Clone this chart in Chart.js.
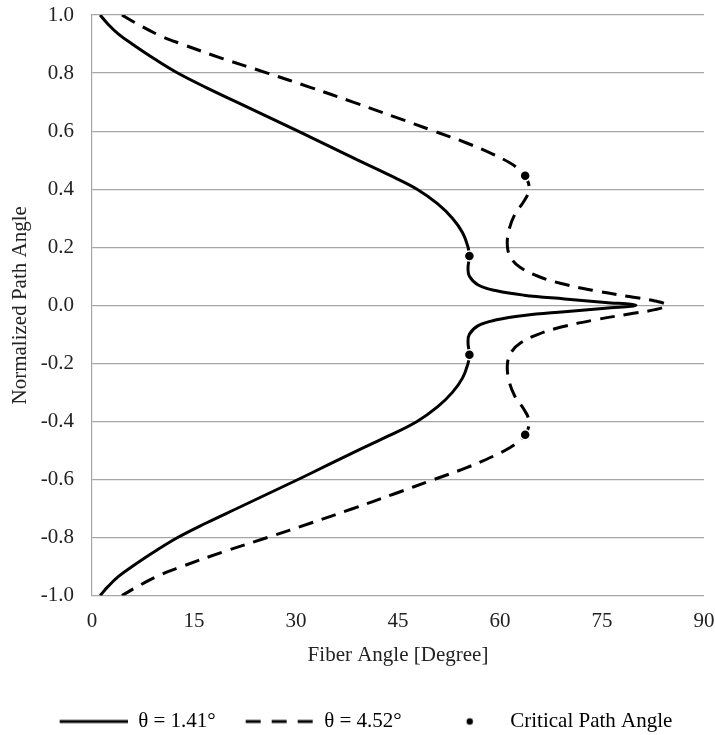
<!DOCTYPE html>
<html>
<head>
<meta charset="utf-8">
<script src="https://cdn.jsdelivr.net/npm/chart.js@4.4.1/dist/chart.umd.min.js"></script>
<style>
  html, body { margin: 0; padding: 0; background: #fff; }
  #wrap { width: 715px; height: 735px; }
</style>
</head>
<body>
<div id="wrap"><canvas id="fiberChart" width="715" height="735"></canvas></div>
<script>
// Fiber angle (x) vs normalized path angle (y)
const solidFiber = [1.2, 2.3, 3.9, 5.9, 9.1, 12.6, 16.8, 21.3, 25.8, 30.3, 34.7, 39.1, 43.6, 47.8, 50.8, 53.0, 54.5, 55.3, 55.5, 55.3, 55.5, 56.8, 59.5, 63.5, 69.5, 75.5, 80.0,
                    75.5, 69.5, 63.5, 59.5, 56.8, 55.5, 55.3, 55.5, 55.3, 54.5, 53.0, 50.8, 47.8, 43.6, 39.1, 34.7, 30.3, 25.8, 21.3, 16.8, 12.6, 9.1, 5.9, 3.9, 2.3, 1.2];
const solidPath  = [1.0, 0.97, 0.934, 0.9, 0.85, 0.8, 0.75, 0.7, 0.65, 0.6, 0.55, 0.5, 0.45, 0.4, 0.35, 0.3, 0.25, 0.2, 0.17, 0.13, 0.1, 0.07, 0.05, 0.035, 0.022, 0.01, 0.0,
                    -0.01, -0.022, -0.035, -0.05, -0.07, -0.1, -0.13, -0.17, -0.2, -0.25, -0.3, -0.35, -0.4, -0.45, -0.5, -0.55, -0.6, -0.65, -0.7, -0.75, -0.8, -0.85, -0.9, -0.934, -0.97, -1.0];

const dashedFiber = [4.4, 6.6, 9.9, 13.2, 19.2, 25.8, 32.2, 38.4, 44.4, 50.3, 55.0, 59.0, 61.5, 62.9, 63.7, 64.2, 64.2, 63.4, 62.2, 61.3, 61.1, 61.7, 63.0, 65.6, 69.0, 74.0, 79.0, 82.8, 84.5,
                     82.8, 79.0, 74.0, 69.0, 65.6, 63.0, 61.7, 61.1, 61.3, 62.2, 63.4, 64.2, 64.2, 63.7, 62.9, 61.5, 59.0, 55.0, 50.3, 44.4, 38.4, 32.2, 25.8, 19.2, 13.2, 9.9, 6.6, 4.4];
const dashedPath  = [1.0, 0.97, 0.93, 0.9, 0.85, 0.8, 0.75, 0.7, 0.65, 0.6, 0.56, 0.52, 0.49, 0.466, 0.446, 0.42, 0.39, 0.354, 0.314, 0.257, 0.2, 0.16, 0.13, 0.1, 0.075, 0.05, 0.03, 0.015, 0.0,
                     -0.015, -0.03, -0.05, -0.075, -0.1, -0.13, -0.16, -0.2, -0.257, -0.314, -0.354, -0.39, -0.42, -0.446, -0.466, -0.49, -0.52, -0.56, -0.6, -0.65, -0.7, -0.75, -0.8, -0.85, -0.9, -0.93, -0.97, -1.0];

const critFiber = [55.5, 63.7, 55.5, 63.7];
const critPath  = [0.17, 0.446, -0.17, -0.446];

const seriesLabels = ['\u03b8 = 1.41\u00b0', '\u03b8 = 4.52\u00b0', 'Critical Path Angle'];
const xTicks = [0, 15, 30, 45, 60, 75, 90];

const FONT = "'Liberation Serif', 'Times New Roman', serif";
const FS = 21;

function toPoints(xs, ys) {
    return xs.map(function(x, i) { return { x: x, y: ys[i] }; });
}

// small canvases used as legend symbols (9px lead-in acts as item spacing)
function legendSymbol(kind) {
    const c = document.createElement('canvas');
    c.width = 77; c.height = 12;
    const g = c.getContext('2d');
    if (kind === 'dot') {
        g.fillStyle = '#000';
        g.beginPath(); g.arc(47, 6, 3.2, 0, Math.PI * 2); g.fill();
    } else {
        g.strokeStyle = '#000';
        g.lineWidth = 3;
        if (kind === 'dash') g.setLineDash([15, 11]);
        g.beginPath(); g.moveTo(9, 6); g.lineTo(77, 6); g.stroke();
    }
    return c;
}
const symbols = [legendSymbol('solid'), legendSymbol('dash'), legendSymbol('dot')];

Chart.defaults.font.family = FONT;
Chart.defaults.font.size = FS;
Chart.defaults.color = '#222';

const ctx = document.getElementById('fiberChart').getContext('2d');
new Chart(ctx, {
    type: 'scatter',
    data: {
        datasets: [{
            label: seriesLabels[2],
            data: toPoints(critFiber, critPath),
            pointRadius: 5,
            pointBackgroundColor: '#000',
            pointBorderColor: '#fff',
            pointBorderWidth: 1.5,
            showLine: false,
            order: 0
        }, {
            label: seriesLabels[0],
            data: toPoints(solidFiber, solidPath),
            showLine: true,
            borderColor: '#000',
            borderWidth: 3,
            pointRadius: 0,
            tension: 0.4,
            order: 1
        }, {
            label: seriesLabels[1],
            data: toPoints(dashedFiber, dashedPath),
            showLine: true,
            borderColor: '#000',
            borderWidth: 3,
            borderDash: [15, 9],
            pointRadius: 0,
            tension: 0.4,
            order: 2
        }]
    },
    options: {
        responsive: false,
        animation: false,
        layout: { padding: { top: 0, right: 0, left: 8, bottom: -7 } },
        scales: {
            x: {
                type: 'linear',
                min: 0,
                max: 90,
                afterBuildTicks: function(axis) {
                    axis.ticks = xTicks.map(function(v) { return { value: v }; });
                },
                afterFit: function(axis) {
                    axis.paddingLeft = 0;
                    axis.paddingRight = 11;
                    axis.height = 94.4;
                },
                grid: { display: false, drawTicks: false },
                border: { display: false },
                ticks: { padding: 13, color: '#222' },
                title: {
                    display: true,
                    text: 'Fiber Angle [Degree]',
                    color: '#222',
                    padding: { top: 0, bottom: 21.8 }
                }
            },
            y: {
                type: 'linear',
                min: -1,
                max: 1,
                afterFit: function(axis) {
                    axis.paddingTop = 15;
                    axis.paddingBottom = 0;
                    axis.width = 84;
                },
                ticks: {
                    stepSize: 0.2,
                    padding: 18,
                    color: '#222',
                    callback: function(v) { return v.toFixed(1); }
                },
                grid: { color: '#a6a6a6', lineWidth: 1.2, drawTicks: false },
                border: { display: true, color: '#a6a6a6', width: 1.2 },
                title: {
                    display: true,
                    text: 'Normalized Path Angle',
                    color: '#222',
                    padding: { top: 0, bottom: 0 }
                }
            }
        },
        plugins: {
            tooltip: { enabled: false },
            legend: {
                position: 'bottom',
                labels: {
                    usePointStyle: true,
                    pointStyleWidth: 77,
                    boxHeight: 12,
                    padding: 21,
                    color: '#222',
                    generateLabels: function() {
                        return seriesLabels.map(function(t, i) {
                            return {
                                text: t,
                                pointStyle: symbols[i],
                                fillStyle: '#000',
                                strokeStyle: '#000',
                                lineWidth: 0,
                                hidden: false,
                                datasetIndex: i
                            };
                        });
                    }
                }
            }
        }
    }
});
</script>
</body>
</html>
